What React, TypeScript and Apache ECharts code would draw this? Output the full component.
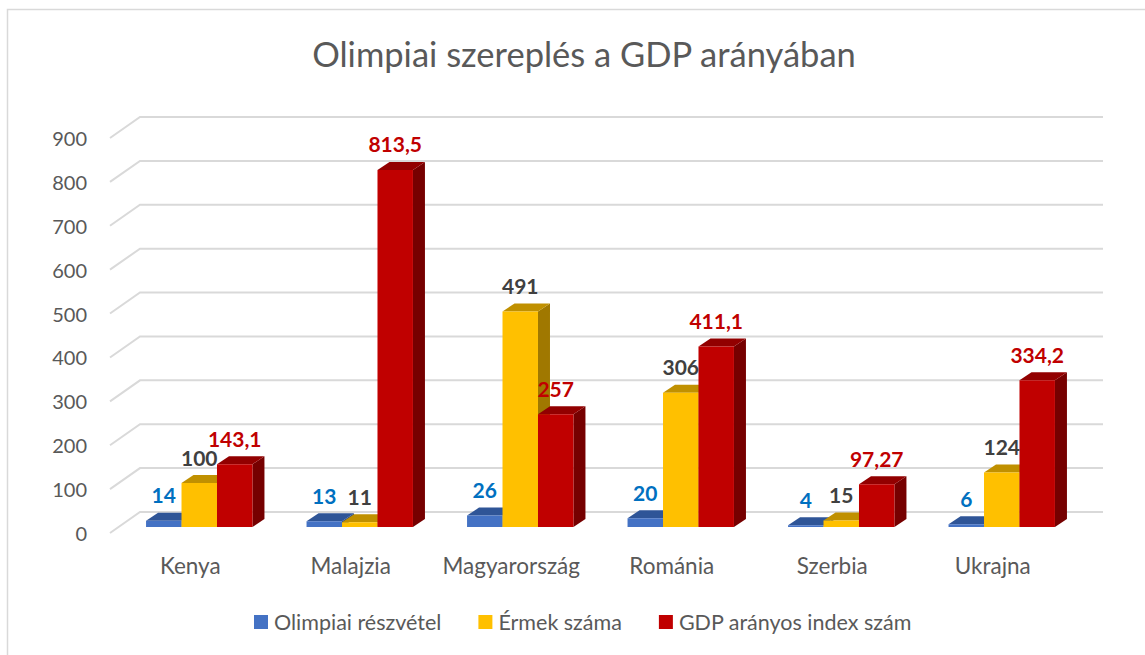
import React, { useEffect, useRef } from "react";
import * as echarts from "echarts";

const CATEGORIES = ["Kenya", "Malajzia", "Magyarország", "Románia", "Szerbia", "Ukrajna"];
const SERIES_NAMES = ["Olimpiai részvétel", "Érmek száma", "GDP arányos index szám"];
const PARTICIPATION = [14, 13, 26, 20, 4, 6];
const MEDALS = [100, 11, 491, 306, 15, 124];
const GDP_INDEX = [143.1, 813.5, 257, 411.1, 97.27, 334.2];
const Y_TICKS = [0, 100, 200, 300, 400, 500, 600, 700, 800, 900];

const FONT = 'Lato, "Open Sans", sans-serif';
const TEXT_GRAY = "#595959";

const FACE_COLORS = [
  { front: "#4472C4", top: "#2F5597", side: "#2A4B86", label: "#0070C0" },
  { front: "#FFC000", top: "#C09000", side: "#A07800", label: "#404040" },
  { front: "#C00000", top: "#920000", side: "#760000", label: "#C00000" },
];

// 3D geometry (pixels)
const WALL_DX = 30;
const WALL_DY = -21;
const BAR_FRONT_DX = 9;
const BAR_FRONT_DY = -6;
const BAR_DEPTH_DX = 12;
const BAR_DEPTH_DY = -8;
const BAR_FRACTION = 0.221;

function fmt(v: number): string {
  return String(v).replace(".", ",");
}

function makeBarRender(seriesIdx: number) {
  const c = FACE_COLORS[seriesIdx];
  return (params: any, api: any) => {
    const cat = api.value(0);
    const val = api.value(1);
    const top = api.coord([cat, val]);
    const base = api.coord([cat, 0]);
    const band = api.size([1, 0])[0];
    const bw = band * BAR_FRACTION;
    const cx = top[0] + (seriesIdx - 1) * bw + BAR_FRONT_DX;
    const x0 = cx - bw / 2;
    const x1 = cx + bw / 2;
    const yT = top[1] + BAR_FRONT_DY;
    const yB = base[1] + BAR_FRONT_DY;
    const dx = BAR_DEPTH_DX;
    const dy = BAR_DEPTH_DY;
    return {
      type: "group",
      children: [
        {
          type: "polygon",
          shape: { points: [[x1, yB], [x1 + dx, yB + dy], [x1 + dx, yT + dy], [x1, yT]] },
          style: { fill: c.side },
        },
        {
          type: "polygon",
          shape: { points: [[x0, yT], [x0 + dx, yT + dy], [x1 + dx, yT + dy], [x1, yT]] },
          style: { fill: c.top },
        },
        {
          type: "rect",
          shape: { x: x0, y: yT, width: bw, height: Math.max(yB - yT, 0.5) },
          style: { fill: c.front },
        },
        {
          type: "text",
          z2: 100,
          style: {
            text: fmt(val),
            x: cx,
            y: yT - 26,
            align: "center",
            verticalAlign: "middle",
            fill: c.label,
            font: `bold 21px ${FONT}`,
          },
        },
      ],
    };
  };
}

function gridRender(params: any, api: any) {
  const v = api.value(1);
  const p0 = api.coord([0, v]);
  const p1 = api.coord([CATEGORIES.length - 1, v]);
  const band = api.size([1, 0])[0];
  const xl = p0[0] - band / 2;
  const xr = p1[0] + band / 2 + WALL_DX;
  const y = p0[1];
  return {
    type: "polyline",
    shape: { points: [[xl, y], [xl + WALL_DX, y + WALL_DY], [xr, y + WALL_DY]] },
    style: { stroke: "#D9D9D9", lineWidth: 2, fill: null },
  };
}

export default function App() {
  const ref = useRef<HTMLDivElement>(null);
  useEffect(() => {
    if (!ref.current) return;
    const chart = echarts.init(ref.current, null, { renderer: "svg" });
    const seriesData = [PARTICIPATION, MEDALS, GDP_INDEX];
    chart.setOption({
      animation: false,
      backgroundColor: "#FFFFFF",
      title: {
        text: "Olimpiai szereplés a GDP arányában",
        left: 579,
        textAlign: "center",
        top: 31,
        textStyle: { fontFamily: FONT, fontSize: 34.5, fontWeight: "normal", color: TEXT_GRAY },
      },
      graphic: [
        {
          type: "rect",
          silent: true,
          z: -10,
          shape: { x: 7.5, y: 9.5, width: 1300, height: 800 },
          style: { fill: null, stroke: "#D9D9D9", lineWidth: 1.5 },
        },
      ],
      legend: {
        left: 249,
        top: 606,
        icon: "rect",
        itemWidth: 14,
        itemHeight: 14,
        itemGap: 37,
        data: SERIES_NAMES,
        textStyle: { fontFamily: FONT, fontSize: 21.5, color: TEXT_GRAY, padding: [0, 0, 0, 1] },
      },
      grid: { left: 110, right: 72, top: 138, bottom: 122 },
      xAxis: {
        type: "category",
        data: CATEGORIES,
        axisLine: { show: false },
        axisTick: { show: false },
        axisLabel: { interval: 0, margin: 21, fontFamily: FONT, fontSize: 22.5, color: TEXT_GRAY },
        splitLine: { show: false },
      },
      yAxis: {
        type: "value",
        min: 0,
        max: 900,
        interval: 100,
        axisLine: { show: false },
        axisTick: { show: false },
        splitLine: { show: false },
        axisLabel: { margin: 23, fontFamily: FONT, fontSize: 20, color: TEXT_GRAY },
      },
      series: [
        {
          type: "custom",
          name: "grid",
          z: 1,
          silent: true,
          renderItem: gridRender,
          encode: { x: 0, y: 1 },
          data: Y_TICKS.map((v) => [0, v]),
        },
        ...SERIES_NAMES.map((name, i) => ({
          type: "custom",
          name,
          z: 2,
          itemStyle: { color: FACE_COLORS[i].front },
          renderItem: makeBarRender(i),
          encode: { x: 0, y: 1 },
          data: seriesData[i].map((v, k) => [k, v]),
        })),
      ],
    });
    return () => chart.dispose();
  }, []);
  return (
    <div
      ref={ref}
      style={{ position: "fixed", left: 0, top: 0, width: 1145, height: 655 }}
    />
  );
}
